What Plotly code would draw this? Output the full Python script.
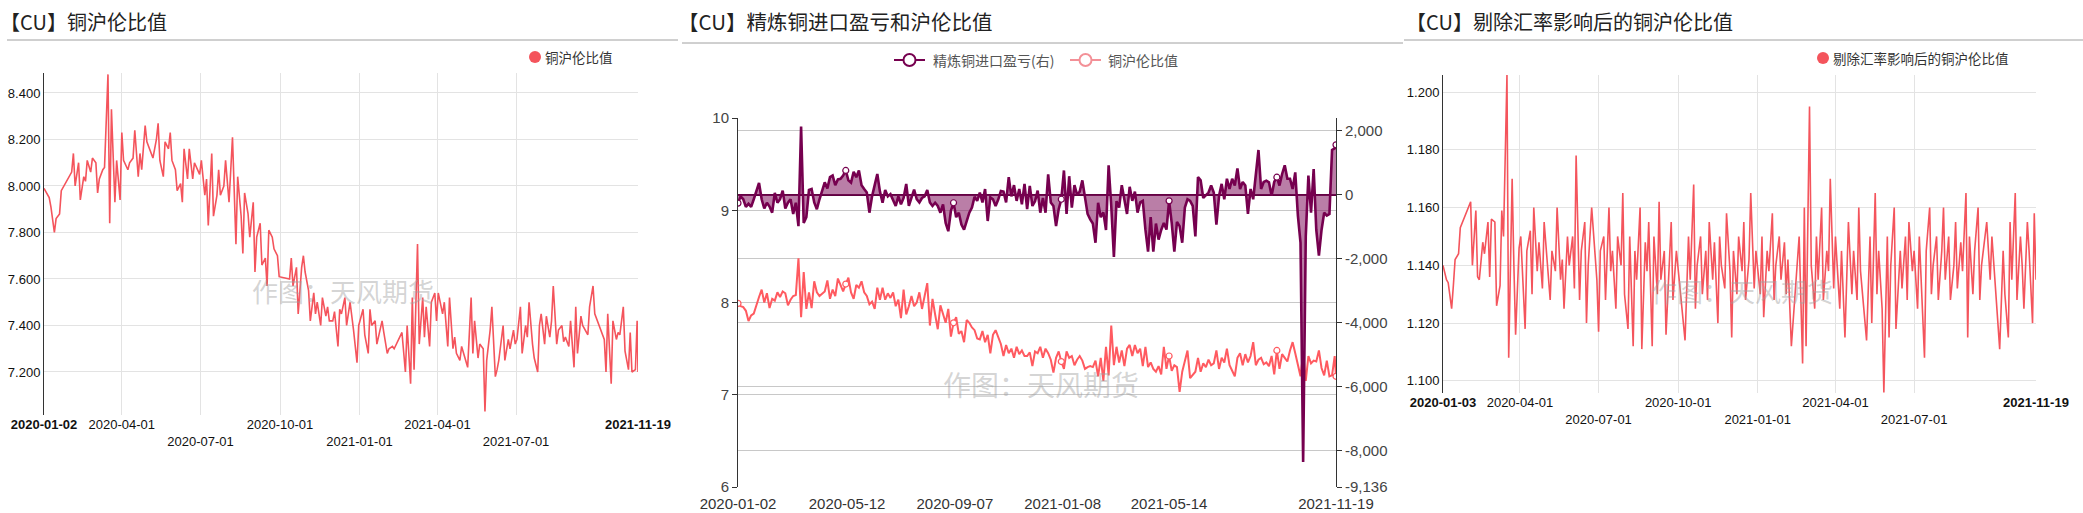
import pandas as pd
import plotly.graph_objects as go

W, H = 2083, 513

# ---------------- data ----------------
HOLIDAYS = ["2020-01-24", "2020-01-27", "2020-01-28", "2020-01-29", "2020-01-30", "2020-01-31",
            "2020-04-06", "2020-05-01", "2020-05-04", "2020-05-05", "2020-06-25", "2020-06-26",
            "2020-10-01", "2020-10-02", "2020-10-05", "2020-10-06", "2020-10-07", "2020-10-08",
            "2021-01-01", "2021-02-11", "2021-02-12", "2021-02-15", "2021-02-16", "2021-02-17",
            "2021-04-05", "2021-05-03", "2021-05-04", "2021-05-05", "2021-06-14",
            "2021-09-20", "2021-09-21", "2021-10-01", "2021-10-04", "2021-10-05", "2021-10-06",
            "2021-10-07"]

# 铜沪伦比值 (every second trading day from 2020-01-02, plus 2021-11-19)
ratio = [
    7.99, 7.96, 7.95, 7.91, 7.80, 7.86, 7.88, 7.98,
    8.06, 8.14, 8.00, 8.10, 7.94, 8.04, 8.02, 8.11, 8.06, 8.12,
    8.10, 7.97, 8.03, 8.07, 8.08, 8.48, 7.84, 8.33, 7.93, 8.11, 7.94,
    8.23, 8.11, 8.07, 8.10, 8.12, 8.24, 8.04, 8.14, 8.07, 8.26, 8.19,
    8.12, 8.20, 8.27, 8.11, 8.04, 8.19, 8.16, 8.23, 8.11,
    8.07, 7.98, 8.01, 7.93, 8.16, 8.03, 8.16, 8.03, 8.10, 8.05,
    8.11, 7.96, 8.03, 7.83, 8.14, 7.87, 7.96, 8.07, 7.96, 8.00, 8.11,
    7.93, 8.07, 8.21, 7.75, 8.04, 7.87, 7.71, 7.97, 7.88, 7.78, 7.93,
    7.63, 7.78, 7.84, 7.66, 7.69, 7.57, 7.81, 7.78, 7.73, 7.70, 7.61,
    7.60, 7.69, 7.57, 7.65, 7.45, 7.65, 7.70, 7.63,
    7.55, 7.42, 7.54, 7.45, 7.50, 7.40, 7.52, 7.44, 7.48, 7.42,
    7.42, 7.46, 7.31, 7.47, 7.45, 7.52, 7.40, 7.50, 7.45, 7.38, 7.24, 7.40,
    7.47, 7.36, 7.28, 7.47, 7.40, 7.42, 7.32, 7.38, 7.42, 7.37,
    7.28, 7.30, 7.31, 7.30, 7.37, 7.20, 7.40,
    7.15, 7.52, 7.21, 7.75, 7.32, 7.52, 7.35, 7.48, 7.31, 7.50, 7.54, 7.42,
    7.54, 7.45, 7.50, 7.31, 7.52, 7.30, 7.35, 7.28, 7.25, 7.31,
    7.22, 7.52, 7.28, 7.42, 7.26, 7.32, 7.30, 7.03, 7.25,
    7.38, 7.48, 7.18, 7.21, 7.25, 7.40, 7.25, 7.34, 7.30, 7.38, 7.32,
    7.34, 7.48, 7.28, 7.40, 7.35, 7.50, 7.32, 7.26, 7.20, 7.40, 7.45,
    7.32, 7.44, 7.35, 7.42, 7.57, 7.32, 7.38, 7.40, 7.33, 7.35, 7.31,
    7.42, 7.22, 7.48, 7.28, 7.44, 7.40, 7.36, 7.48, 7.57, 7.45,
    7.34, 7.20, 7.45, 7.15, 7.42, 7.34, 7.37, 7.36,
    7.48, 7.29, 7.21, 7.37, 7.20, 7.21, 7.42, 7.20,
]

# 精炼铜进口盈亏 (same dates as ratio)
profit = [
    -260, -50, -140, -380, -280, -380, -140, 120, 370, -140,
    -430, -250, -370, -560, 60, -250, -140, 130, -430, -250,
    -140, -600, -250, -980, 2130, -880, -700, 150, 180, -240,
    -450, -140, 100, 390, 200, 550, 600, 300, 480, 500,
    600, 760, 450, 380, 720, 550, 760, 300, 180, 70,
    -560, -50, 300, 650, 100, -250, 150, -50, 20, -140,
    -350, -50, -300, -100, 340, -350, -100, 160, -140, -240,
    -100, -50, 150, -240, -350, -250, -350, -560, -300, -880,
    -1140, -500, -250, -700, -560, -930, -1090, -800, -560, -400,
    -60, -190, 70, -240, 180, -820, -80, -140, -350, -150,
    120, 100, -240, 550, -50, 300, -190, 180, -300, 340,
    -450, 280, -350, -200, 130, -560, -100, -560, 640, -240,
    -350, -980, -450, -140, 760, -600, 580, -400, 300, 0,
    100, 450, -150, -600, -770, -900, -1500, -250, -700, -550,
    -1100, 920, -350, -1940, -200, -400, 300, -150, -600, 250,
    -190, 100, -560, -240, -190, -1090, -1780, -700, -1780, -900,
    -1400, -1100, -880, -1090, -190, -880, -1780, -850, -980, -1500,
    -400, -140, -190, -350, -1300, 550, 450, -100, -30, 70,
    290, 70, -930, -40, 340, -140, 500, 180, 500, 290,
    820, 180, 400, 290, -600, 180, -140, 700, 1400, 180,
    400, 440, 390, -30, 400, 550, 290, 650, 920, 500,
    500, 180, 700, -650, -1500, -8350, -1300, 600, -560, 800,
    -1100, -1900, -1100, -560, -650, -600, 1400, 1450, 1560,
]

# 剔除汇率影响后的铜沪伦比值 (every second trading day from 2020-01-03)
ratio_adj = [
    1.140, 1.135, 1.134, 1.125, 1.133, 1.142, 1.144, 1.153,
    1.162, 1.140, 1.159, 1.136, 1.135, 1.148, 1.144, 1.155, 1.136, 1.156,
    1.155, 1.126, 1.133, 1.159, 1.150, 1.206, 1.108, 1.170, 1.140, 1.116, 1.146,
    1.150, 1.118, 1.145, 1.152, 1.130, 1.160, 1.138, 1.148, 1.132, 1.155,
    1.128, 1.145, 1.138, 1.160, 1.135, 1.142, 1.125, 1.150, 1.140,
    1.150, 1.132, 1.178, 1.128, 1.145, 1.155, 1.120, 1.140, 1.160, 1.135,
    1.117, 1.145, 1.150, 1.128, 1.160, 1.138, 1.145, 1.125, 1.150, 1.140, 1.165, 1.130,
    1.118, 1.150, 1.112, 1.145, 1.135, 1.160, 1.111, 1.148, 1.138, 1.155,
    1.112, 1.150, 1.130, 1.162, 1.135, 1.145, 1.116, 1.140, 1.155, 1.128, 1.145,
    1.114, 1.150, 1.135, 1.168, 1.125, 1.140, 1.150, 1.130,
    1.145, 1.128, 1.155, 1.135, 1.148, 1.120, 1.150, 1.140, 1.132, 1.158, 1.138,
    1.115, 1.145, 1.130, 1.150, 1.138, 1.155, 1.128, 1.142, 1.165, 1.132, 1.145,
    1.130, 1.150, 1.122, 1.145, 1.138, 1.158, 1.128, 1.140, 1.150, 1.135,
    1.148, 1.130, 1.142, 1.112, 1.150, 1.106, 1.160, 1.112,
    1.195, 1.140, 1.125, 1.150, 1.135, 1.160, 1.128, 1.145, 1.138, 1.170, 1.132,
    1.150, 1.125, 1.145, 1.115, 1.140, 1.155, 1.130, 1.145, 1.128, 1.160, 1.138,
    1.114, 1.150, 1.120, 1.165, 1.130, 1.145, 1.125, 1.096, 1.150,
    1.115, 1.140, 1.160, 1.118, 1.145, 1.132, 1.150, 1.128, 1.155, 1.138,
    1.145, 1.125, 1.150, 1.135, 1.108, 1.145, 1.160, 1.130, 1.140, 1.150, 1.128,
    1.145, 1.160, 1.135, 1.150, 1.128, 1.140, 1.155, 1.132, 1.148, 1.138, 1.165,
    1.115, 1.150, 1.130, 1.145, 1.160, 1.128, 1.140, 1.155, 1.135, 1.150,
    1.111, 1.145, 1.130, 1.115, 1.155, 1.135, 1.165, 1.128,
    1.150, 1.140, 1.125, 1.155, 1.145, 1.120, 1.158, 1.135,
]

P1_TICKS = ["2020-01-02", "2020-04-01", "2020-07-01", "2020-10-01", "2021-01-01",
            "2021-04-01", "2021-07-01", "2021-11-19"]
P3_TICKS = ["2020-01-03", "2020-04-01", "2020-07-01", "2020-10-01", "2021-01-01",
            "2021-04-01", "2021-07-01", "2021-11-19"]
P2_TICKS = ["2020-01-02", "2020-05-12", "2020-09-07", "2021-01-08", "2021-05-14", "2021-11-19"]
P2_MARK_IDX = [0, 82, 164, 246, 328, 410, 455]
R_TICKS = [2000, 0, -2000, -4000, -6000, -8000, -9136]

TITLES = ["【CU】铜沪伦比值", "【CU】精炼铜进口盈亏和沪伦比值", "【CU】剔除汇率影响后的铜沪伦比值"]
WATERMARK = "作图：天风期货"

# ---------------- derived ----------------
hol = set(HOLIDAYS)
tdays = [d for d in pd.bdate_range("2020-01-02", "2021-11-19") if d.strftime("%Y-%m-%d") not in hol]
n = len(tdays)
idx_even = list(range(0, n, 2))
if idx_even[-1] != n - 1:
    idx_even.append(n - 1)
idx_odd = list(range(1, n, 2))
if idx_odd[-1] != n - 1:
    idx_odd.append(n - 1)

m1 = min(len(idx_even), len(ratio), len(profit))
d_even = [tdays[i] for i in idx_even[:m1]]
k_even = idx_even[:m1]
r1 = ratio[:m1]
p1 = profit[:m1]
m3 = min(len(idx_odd), len(ratio_adj))
d_odd = [tdays[i] for i in idx_odd[:m3]]
ra = ratio_adj[:m3]

str_days = [d.strftime("%Y-%m-%d") for d in tdays]
p2_tickvals = [str_days.index(t) if t in str_days else 0 for t in P2_TICKS]
mark_pos = [k_even.index(i) for i in P2_MARK_IDX if i in k_even]


def px_x(v):
    return v / W


def px_y(v):
    return 1 - v / H


def stagger(labels):
    out = []
    for i, t in enumerate(labels):
        if i == 0 or i == len(labels) - 1:
            out.append("<b>" + t + "</b>")
        elif i % 2 == 0:
            out.append("<br>" + t)
        else:
            out.append(t)
    return out


NUMFONT = "Liberation Sans, Arial, sans-serif"
TICKFONT = dict(family=NUMFONT, size=13, color="#111")
CJK = "Noto Sans CJK SC, sans-serif"
RED = "#f4545c"
PURPLE = "#76004f"
PINK_LEG = "#f39097"

fig = go.Figure()

# panel 1
fig.add_trace(go.Scatter(x=d_even, y=r1, xaxis="x", yaxis="y", mode="lines",
                         line=dict(color=RED, width=1.6), hoverinfo="skip"))
# panel 2
fig.add_trace(go.Scatter(x=k_even, y=r1, xaxis="x2", yaxis="y2", mode="lines",
                         line=dict(color="#ff5a60", width=2), hoverinfo="skip"))
fig.add_trace(go.Scatter(x=[k_even[i] for i in mark_pos], y=[r1[i] for i in mark_pos],
                         xaxis="x2", yaxis="y2", mode="markers",
                         marker=dict(size=6, color="white", line=dict(color="#ff5a60", width=1.2)),
                         hoverinfo="skip"))
fig.add_trace(go.Scatter(x=k_even, y=p1, xaxis="x2", yaxis="y3", mode="lines", fill="tozeroy",
                         fillcolor="rgba(130,20,95,0.55)",
                         line=dict(color=PURPLE, width=2.6), hoverinfo="skip"))
fig.add_trace(go.Scatter(x=[k_even[i] for i in mark_pos], y=[p1[i] for i in mark_pos],
                         xaxis="x2", yaxis="y3", mode="markers",
                         marker=dict(size=6, color="white", line=dict(color=PURPLE, width=1.2)),
                         hoverinfo="skip"))
# panel 3
fig.add_trace(go.Scatter(x=d_odd, y=ra, xaxis="x3", yaxis="y4", mode="lines",
                         line=dict(color=RED, width=1.6), hoverinfo="skip"))

GRID = "#e3e3e3"
P2FONT = dict(family=NUMFONT, size=15, color="#444")
layout = dict(
    width=W, height=H, margin=dict(l=0, r=0, t=0, b=0, autoexpand=False),
    paper_bgcolor="white", plot_bgcolor="white", showlegend=False,
    font=dict(family=CJK, color="#333"),
    xaxis=dict(domain=[px_x(44), px_x(638)], anchor="y", type="date", automargin=False,
               range=[P1_TICKS[0], P1_TICKS[-1]], tickmode="array", tickvals=P1_TICKS,
               ticktext=stagger(P1_TICKS), showgrid=False, zeroline=False, showline=False,
               ticks="", tickfont=TICKFONT, tickangle=0,
               minor=dict(tickmode="array", tickvals=P1_TICKS[1:-1], showgrid=True,
                          gridcolor=GRID, gridwidth=1, ticks="")),
    yaxis=dict(domain=[px_y(415), px_y(73)], anchor="x", range=[7.015, 8.486], automargin=False,
               tickmode="array", tickvals=[7.2, 7.4, 7.6, 7.8, 8.0, 8.2, 8.4], tickformat=".3f",
               showgrid=True, gridcolor=GRID, zeroline=False, showline=True, linecolor="#333",
               linewidth=1, ticks="", tickfont=TICKFONT),
    xaxis2=dict(domain=[px_x(738), px_x(1336)], anchor="y2", range=[0, n - 1], automargin=False,
                tickmode="array", tickvals=p2_tickvals, ticktext=P2_TICKS, showgrid=False,
                zeroline=False, showline=False, ticks="", ticklabelstandoff=6,
                tickfont=dict(family=NUMFONT, size=15, color="#333")),
    yaxis2=dict(domain=[px_y(487), px_y(118)], anchor="x2", range=[6, 10], tickmode="array",
                tickvals=[6, 7, 8, 9, 10], showgrid=True, gridcolor="#c8c8c8", zeroline=False,
                showline=True, linecolor="#333", ticks="outside", ticklen=5, tickcolor="#333",
                automargin=False, tickfont=P2FONT),
    yaxis3=dict(domain=[px_y(487), px_y(118)], anchor="x2", overlaying="y2", side="right",
                range=[-9136, 2400], tickmode="array", tickvals=R_TICKS, automargin=False,
                ticktext=[f"{v:,}" for v in R_TICKS], showgrid=True, gridcolor="#c8c8c8",
                zeroline=True, zerolinecolor="#5e003f", zerolinewidth=2, showline=True,
                linecolor="#333", ticks="outside", ticklen=5, tickcolor="#333",
                tickfont=P2FONT),
    xaxis3=dict(domain=[px_x(1443), px_x(2036)], anchor="y4", type="date", automargin=False,
                range=[P3_TICKS[0], P3_TICKS[-1]], tickmode="array", tickvals=P3_TICKS,
                ticktext=stagger(P3_TICKS), showgrid=False, zeroline=False, showline=False,
                ticks="", tickfont=TICKFONT, tickangle=0,
                minor=dict(tickmode="array", tickvals=P3_TICKS[1:-1], showgrid=True,
                           gridcolor=GRID, gridwidth=1, ticks="")),
    yaxis4=dict(domain=[px_y(393), px_y(75)], anchor="x3", range=[1.0958, 1.2059],
                tickmode="array", tickvals=[1.10, 1.12, 1.14, 1.16, 1.18, 1.20], tickformat=".3f",
                showgrid=True, gridcolor=GRID, zeroline=False, showline=True, linecolor="#333",
                automargin=False, ticks="", tickfont=TICKFONT),
)
fig.update_layout(**layout)

shapes = []
ann = []
# separators
for x0, x1, y in [(7, 678, 40), (682, 1403, 43), (1404, 2083, 40)]:
    shapes.append(dict(type="line", xref="paper", yref="paper", x0=px_x(x0), x1=px_x(x1),
                       y0=px_y(y), y1=px_y(y), line=dict(color="#a0a0a0", width=1)))
# titles
for x, t, s in [(-2, TITLES[0], 20), (676, TITLES[1], 20.5), (1404, TITLES[2], 20)]:
    ann.append(dict(x=px_x(x), y=px_y(21), xref="paper", yref="paper", xanchor="left",
                    yanchor="middle", text=t, showarrow=False,
                    font=dict(family=CJK, size=s, color="#222")))
# legend panel 1
shapes.append(dict(type="circle", xref="paper", yref="paper", x0=px_x(529), x1=px_x(541),
                   y0=px_y(63), y1=px_y(51), fillcolor=RED, line=dict(width=0)))
ann.append(dict(x=px_x(543), y=px_y(57), xref="paper", yref="paper", xanchor="left",
                yanchor="middle", text="铜沪伦比值", showarrow=False,
                font=dict(family=CJK, size=13.5, color="#333")))
# legend panel 3
shapes.append(dict(type="circle", xref="paper", yref="paper", x0=px_x(1817), x1=px_x(1829),
                   y0=px_y(64), y1=px_y(52), fillcolor=RED, line=dict(width=0)))
ann.append(dict(x=px_x(1831), y=px_y(58), xref="paper", yref="paper", xanchor="left",
                yanchor="middle", text="剔除汇率影响后的铜沪伦比值", showarrow=False,
                font=dict(family=CJK, size=13.5, color="#333")))
# legend panel 2
for (lx0, lx1, col, tx, txt) in [(894, 925, PURPLE, 931, "精炼铜进口盈亏(右)"),
                                 (1070, 1101, PINK_LEG, 1106, "铜沪伦比值")]:
    shapes.append(dict(type="line", xref="paper", yref="paper", x0=px_x(lx0), x1=px_x(lx1),
                       y0=px_y(60), y1=px_y(60), line=dict(color=col, width=2)))
    cx = (lx0 + lx1) / 2
    shapes.append(dict(type="circle", xref="paper", yref="paper", x0=px_x(cx - 6),
                       x1=px_x(cx + 6), y0=px_y(66), y1=px_y(54), fillcolor="white",
                       line=dict(color=col, width=2)))
    ann.append(dict(x=px_x(tx), y=px_y(60), xref="paper", yref="paper", xanchor="left",
                    yanchor="middle", text=txt, showarrow=False,
                    font=dict(family=CJK, size=14, color="#555")))
# watermarks
for x, y, s in [(343, 290, 26), (1041, 384, 28), (1742, 290, 26)]:
    ann.append(dict(x=px_x(x), y=px_y(y), xref="paper", yref="paper", xanchor="center",
                    yanchor="middle", text=WATERMARK, showarrow=False,
                    font=dict(family=CJK, size=s, color="rgba(160,160,160,0.45)")))

fig.update_layout(shapes=shapes, annotations=ann)
fig.write_html("out.html", config={"displayModeBar": False},
               post_script="document.body.style.margin='0px';document.body.style.overflow='hidden';")
